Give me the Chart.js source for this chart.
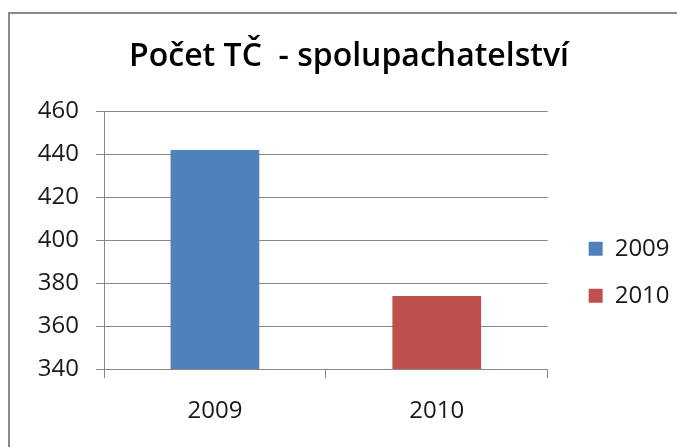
<!DOCTYPE html>
<html>
<head>
<meta charset="utf-8">
<title>Počet TČ - spolupachatelství</title>
<script src="https://cdn.jsdelivr.net/npm/chart.js@4/dist/chart.umd.min.js"></script>
<style>
  html, body { margin: 0; padding: 0; background: #fff; }
  canvas { display: block; }
</style>
</head>
<body>
<canvas id="chart" width="677" height="447"></canvas>
<script>
// Chart data
const categories = ['2009', '2010'];
const seriesNames = ['2009', '2010'];
const values = [442, 374];
const yMin = 340;
const yMax = 460;
const yStep = 20;

// Office 2007 palette
const SERIES_COLORS = ['#4F81BD', '#C0504D'];
const GRID_COLOR = '#878787';
const TEXT_COLOR = '#1a1a1a';
const FONT = "'Open Sans', 'Noto Sans', sans-serif";

// Outer chart frame (like the Excel chart border)
const framePlugin = {
  id: 'frame',
  beforeDraw(chart) {
    const { ctx } = chart;
    ctx.save();
    ctx.fillStyle = '#fff';
    ctx.fillRect(0, 0, chart.width, chart.height);
    ctx.strokeStyle = '#8a8a8a';
    ctx.lineWidth = 2;
    ctx.strokeRect(9, 13, chart.width + 20, chart.height + 20);
    ctx.restore();
  },
};

// one dataset per year, each only filled at its own category
const datasets = seriesNames.map((name, i) => ({
  label: name,
  data: categories.map((c, j) => (j === i ? values[i] : null)),
  backgroundColor: SERIES_COLORS[i],
  borderWidth: 0,
  grouped: false,
  barPercentage: 0.4,
  categoryPercentage: 1,
}));

new Chart(document.getElementById('chart'), {
  type: 'bar',
  data: { labels: categories, datasets },
  plugins: [framePlugin],
  options: {
    responsive: false,
    animation: false,
    devicePixelRatio: 1,
    layout: { padding: { left: 24, right: 3, top: 0, bottom: 0 } },
    plugins: {
      title: {
        display: true,
        text: 'Počet TČ  - spolupachatelství',
        color: '#000',
        font: { family: FONT, size: 32, weight: '600', lineHeight: 1.2 },
        padding: { top: 38, bottom: 35 },
      },
      legend: {
        position: 'right',
        fullSize: false,
        align: 'center',
        title: {
          display: true,
          text: '',
          font: { size: 10, lineHeight: 1 },
          padding: { top: 54, bottom: 0 },
        },
        labels: {
          boxWidth: 14,
          boxHeight: 14,
          padding: 23,
          color: TEXT_COLOR,
          font: { family: FONT, size: 24 },
        },
      },
      tooltip: { enabled: false },
    },
    scales: {
      x: {
        grid: {
          display: true,
          drawOnChartArea: false,
          drawTicks: true,
          tickLength: 9,
          offset: true,
          color: GRID_COLOR,
        },
        border: { display: true, color: GRID_COLOR },
        ticks: {
          color: TEXT_COLOR,
          padding: 19,
          font: { family: FONT, size: 24 },
        },
        afterFit(scale) { scale.height = 78; },
      },
      y: {
        min: yMin,
        max: yMax,
        grid: {
          color: GRID_COLOR,
          drawTicks: true,
          tickLength: 8,
        },
        border: { display: true, color: GRID_COLOR },
        ticks: {
          stepSize: yStep,
          color: TEXT_COLOR,
          padding: 17,
          font: { family: FONT, size: 24 },
        },
        afterFit(scale) { scale.width = 80; },
      },
      // spacer between plot area and legend
      gap: {
        type: 'linear',
        axis: 'y',
        position: 'right',
        grid: { display: false },
        border: { display: false },
        ticks: { display: false },
        afterFit(scale) { scale.width = 18; },
      },
    },
  },
});
</script>
</body>
</html>
